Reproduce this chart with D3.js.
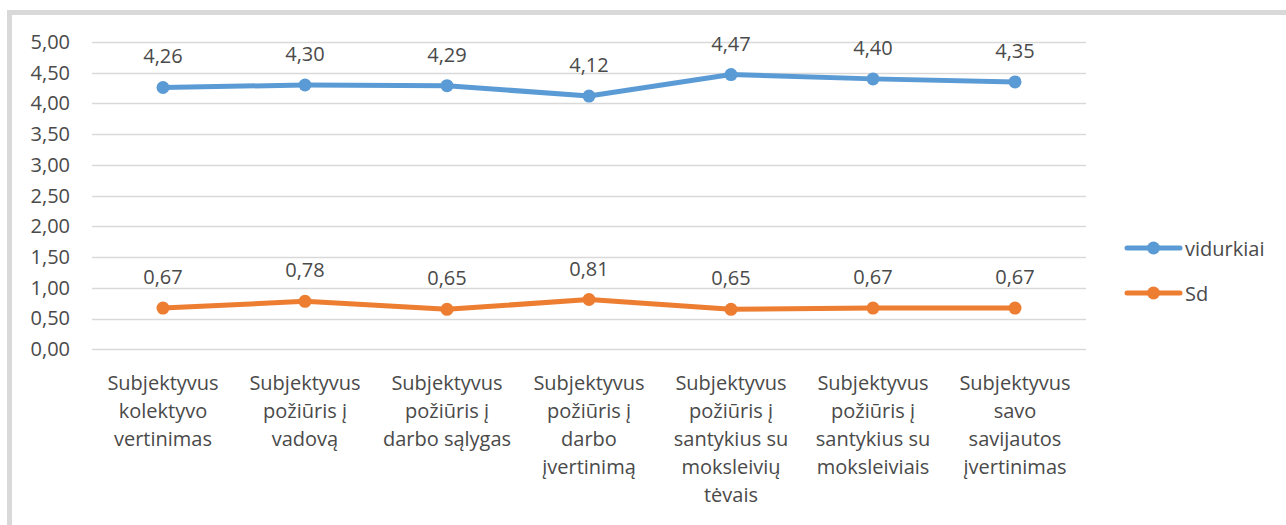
<!DOCTYPE html>
<html>
<head>
<meta charset="utf-8">
<script src="https://cdnjs.cloudflare.com/ajax/libs/d3/7.8.5/d3.min.js"></script>
<style>
  body { margin: 0; background: #fff; }
  text { font-family: "Open Sans", sans-serif; fill: #4a4a4a; }
</style>
</head>
<body>
<div id="chart"></div>
<script>
// categories, each split in lines as in the picture
var categories = [
  ["Subjektyvus", "kolektyvo", "vertinimas"],
  ["Subjektyvus", "požiūris į", "vadovą"],
  ["Subjektyvus", "požiūris į", "darbo sąlygas"],
  ["Subjektyvus", "požiūris į", "darbo", "įvertinimą"],
  ["Subjektyvus", "požiūris į", "santykius su", "moksleivių", "tėvais"],
  ["Subjektyvus", "požiūris į", "santykius su", "moksleiviais"],
  ["Subjektyvus", "savo", "savijautos", "įvertinimas"]
];
var vidurkiai = [4.26, 4.30, 4.29, 4.12, 4.47, 4.40, 4.35];
var sd = [0.67, 0.78, 0.65, 0.81, 0.65, 0.67, 0.67];
var yTicks = [0, 0.5, 1, 1.5, 2, 2.5, 3, 3.5, 4, 4.5, 5];
var seriesNames = ["vidurkiai", "Sd"];
var colors = ["#5B9BD5", "#ED7D31"];

var W = 1286, H = 525;
var fs = 20;
var svg = d3.select("#chart").append("svg")
  .attr("width", W)
  .attr("height", H);

// outer chart frame
svg.append("rect")
  .attr("x", 9.5).attr("y", 12.5)
  .attr("width", W + 20).attr("height", H + 20)
  .attr("fill", "#fff")
  .attr("stroke", "#d9d9d9")
  .attr("stroke-width", 5);

var fmt = function(v) { return v.toFixed(2).replace(".", ","); };

var x = d3.scaleBand()
  .domain(d3.range(categories.length))
  .range([92, 1086]);

var y = d3.scaleLinear()
  .domain([0, 5])
  .range([349.3, 42]);

// gridlines
svg.append("g").selectAll("line")
  .data(yTicks).enter().append("line")
  .attr("x1", 92).attr("x2", 1086)
  .attr("y1", function(d) { return Math.round(y(d)) + 0.5; })
  .attr("y2", function(d) { return Math.round(y(d)) + 0.5; })
  .attr("stroke", "#d9d9d9")
  .attr("stroke-width", 1.3);

// y axis labels
var yAxis = d3.axisLeft(y).tickValues(yTicks).tickFormat(fmt).tickSize(0).tickPadding(0);
var ya = svg.append("g").attr("transform", "translate(70,0)").call(yAxis);
ya.select(".domain").remove();
ya.selectAll("text")
  .attr("font-family", "Open Sans")
  .attr("font-size", fs)
  .attr("fill", "#4a4a4a");

// x category labels
var xl = svg.append("g").selectAll("text")
  .data(categories).enter().append("text")
  .attr("text-anchor", "middle")
  .attr("font-size", fs)
  .attr("x", function(d, i) { return x(i) + x.bandwidth() / 2; })
  .attr("y", 382)
  .attr("dominant-baseline", "central");
xl.selectAll("tspan")
  .data(function(d) { return d; }).enter().append("tspan")
  .attr("x", function() { return this.parentNode.getAttribute("x"); })
  .attr("dy", function(d, j) { return j === 0 ? 0 : 28; })
  .text(function(d) { return d; });

var line = d3.line()
  .x(function(d, i) { return x(i) + x.bandwidth() / 2; })
  .y(function(d) { return y(d); });

[vidurkiai, sd].forEach(function(s, k) {
  var g = svg.append("g");
  g.append("path")
    .datum(s)
    .attr("fill", "none")
    .attr("stroke", colors[k])
    .attr("stroke-width", 5)
    .attr("stroke-linejoin", "round")
    .attr("stroke-linecap", "round")
    .attr("d", line);
  g.selectAll("circle")
    .data(s).enter().append("circle")
    .attr("cx", function(d, i) { return x(i) + x.bandwidth() / 2; })
    .attr("cy", function(d) { return y(d); })
    .attr("r", 6.5)
    .attr("fill", colors[k]);
  g.selectAll("text")
    .data(s).enter().append("text")
    .attr("x", function(d, i) { return x(i) + x.bandwidth() / 2; })
    .attr("y", function(d) { return y(d) - 31.5; })
    .attr("text-anchor", "middle")
    .attr("dominant-baseline", "central")
    .attr("font-size", fs)
    .text(fmt);
});

// legend
var lg = svg.append("g").selectAll("g")
  .data(seriesNames).enter().append("g")
  .attr("transform", function(d, i) { return "translate(0," + (248 + i * 45) + ")"; });
lg.append("line")
  .attr("x1", 1127).attr("x2", 1180)
  .attr("stroke", function(d, i) { return colors[i]; })
  .attr("stroke-width", 5)
  .attr("stroke-linecap", "round");
lg.append("circle")
  .attr("cx", 1153.5).attr("r", 6.5)
  .attr("fill", function(d, i) { return colors[i]; });
lg.append("text")
  .attr("x", 1185)
  .attr("dominant-baseline", "central")
  .attr("font-size", fs)
  .text(function(d) { return d; });
</script>
</body>
</html>
